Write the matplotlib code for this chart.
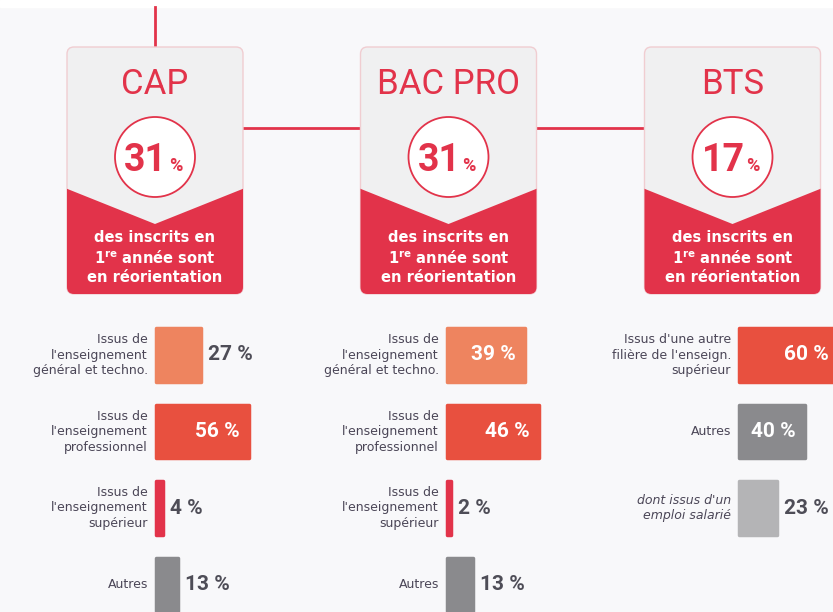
import numpy as np
import matplotlib.pyplot as plt
from matplotlib.patches import FancyBboxPatch, Polygon, Circle

levels = ["CAP", "BAC PRO", "BTS"]
reorientation = [31, 31, 17]

cap_labels = ["Issus de\nl'enseignement\ngénéral et techno.",
              "Issus de\nl'enseignement\nprofessionnel",
              "Issus de\nl'enseignement\nsupérieur",
              "Autres"]
cap_values = [27, 56, 4, 13]

bac_labels = ["Issus de\nl'enseignement\ngénéral et techno.",
              "Issus de\nl'enseignement\nprofessionnel",
              "Issus de\nl'enseignement\nsupérieur",
              "Autres"]
bac_values = [39, 46, 2, 13]

bts_labels = ["Issus d'une autre\nfilière de l'enseign.\nsupérieur",
              "Autres",
              "dont issus d'un\nemploi salarié"]
bts_values = [60, 40, 23]

RED = "#e2334a"
ORANGE = "#ee845f"
BRIGHT = "#e8503f"
DARK = "#8a8a8d"
LIGHT = "#b4b4b6"
TXT = "#4b4657"

cap_colors = [ORANGE, BRIGHT, RED, DARK]
bac_colors = [ORANGE, BRIGHT, RED, DARK]
bts_colors = [BRIGHT, DARK, LIGHT]

W, H = 833, 612
fig = plt.figure(figsize=(W / 100, H / 100), dpi=100)
fig.patch.set_facecolor("#f8f8fa")

ax = fig.add_axes([0, 0, 1, 1])
ax.set_xlim(0, W)
ax.set_ylim(H, 0)
ax.axis("off")
ax.axhspan(0, 7, color="white", zorder=0)

# connector lines
centers = [155, 448.5, 732.5]
card_w = 176
top, bottom = 47, 294
ax.plot([centers[0], centers[0]], [7, top], color=RED, lw=2, zorder=1)
for c1, c2 in zip(centers[:-1], centers[1:]):
    ax.plot([c1 + card_w / 2, c2 - card_w / 2], [128, 128], color=RED, lw=2, zorder=1)

for cx, name, pct in zip(centers, levels, reorientation):
    x0 = cx - card_w / 2
    card = FancyBboxPatch((x0, top), card_w, bottom - top,
                          boxstyle="round,pad=0,rounding_size=7",
                          fc="#f0f0f1", ec="#f0cdd1", lw=1, zorder=2)
    ax.add_patch(card)
    red = Polygon([(x0 - 2, 188), (cx, 224), (x0 + card_w + 2, 188),
                   (x0 + card_w + 2, bottom + 2), (x0 - 2, bottom + 2)],
                  closed=True, fc=RED, ec="none", zorder=3)
    ax.add_patch(red)
    red.set_clip_path(card)

    ax.text(cx, 84, name, ha="center", va="center", fontsize=25,
            family="Roboto", color=RED, zorder=4)
    ax.add_patch(Circle((cx, 157), 40, fc="white", ec=RED, lw=1.3, zorder=4))
    ax.text(cx + 12, 171, str(pct), ha="right", va="baseline", fontsize=27,
            family="Roboto", weight="bold", color=RED, zorder=5)
    ax.text(cx + 14, 171, "%", ha="left", va="baseline", fontsize=13,
            family="Roboto", weight="bold", color=RED, zorder=5)

    ax.text(cx, 237, "des inscrits en", ha="center", va="center", fontsize=10.5,
            weight="bold", color="white", zorder=5)
    ax.text(cx, 258, r"1$^{\mathbf{re}}$ année sont", ha="center", va="center",
            fontsize=10.5, weight="bold", color="white", zorder=5)
    ax.text(cx, 278, "en réorientation", ha="center", va="center", fontsize=10.5,
            weight="bold", color="white", zorder=5)

# bar panels
row_h = 76.5
first_row = 355
panels = [
    (156, 1.66, cap_labels, cap_values, cap_colors),
    (447, 2.0, bac_labels, bac_values, bac_colors),
    (739, 1.65, bts_labels, bts_values, bts_colors),
]
for x0, scale, labels, values, colors in panels:
    ytop = first_row - row_h / 2
    hpx = 4 * row_h
    wpx = W - x0
    bax = fig.add_axes([x0 / W, (H - ytop - hpx) / H, wpx / W, hpx / H])
    bax.set_xlim(0, wpx / scale)
    bax.set_ylim(3.5, -0.5)
    bax.axis("off")
    bax.patch.set_alpha(0)
    rows = np.arange(len(values))
    bars = bax.barh(rows, values, height=0.7, color=colors, edgecolor=colors,
                    lw=2.5, zorder=2)
    for b in bars:
        b.set_joinstyle("round")
        b.set_clip_on(False)
    for i, (lab, v) in enumerate(zip(labels, values)):
        italic = lab.startswith("dont")
        bax.annotate(lab, xy=(0, i), xytext=(-8, 0), textcoords="offset pixels",
                     ha="right", va="center", fontsize=9, color=TXT,
                     style="italic" if italic else "normal",
                     linespacing=1.25, annotation_clip=False)
        if v * scale > 55:
            bax.annotate(f"{v} %", xy=(v, i), xytext=(-9, 0), textcoords="offset pixels",
                         ha="right", va="center", fontsize=15, family="Roboto",
                         weight="bold", color="white", annotation_clip=False)
        else:
            bax.annotate(f"{v} %", xy=(v, i), xytext=(7, 0), textcoords="offset pixels",
                         ha="left", va="center", fontsize=15, family="Roboto",
                         weight="bold", color="#4e4d57", annotation_clip=False)

fig.savefig("out.png", dpi=100, facecolor=fig.get_facecolor())
